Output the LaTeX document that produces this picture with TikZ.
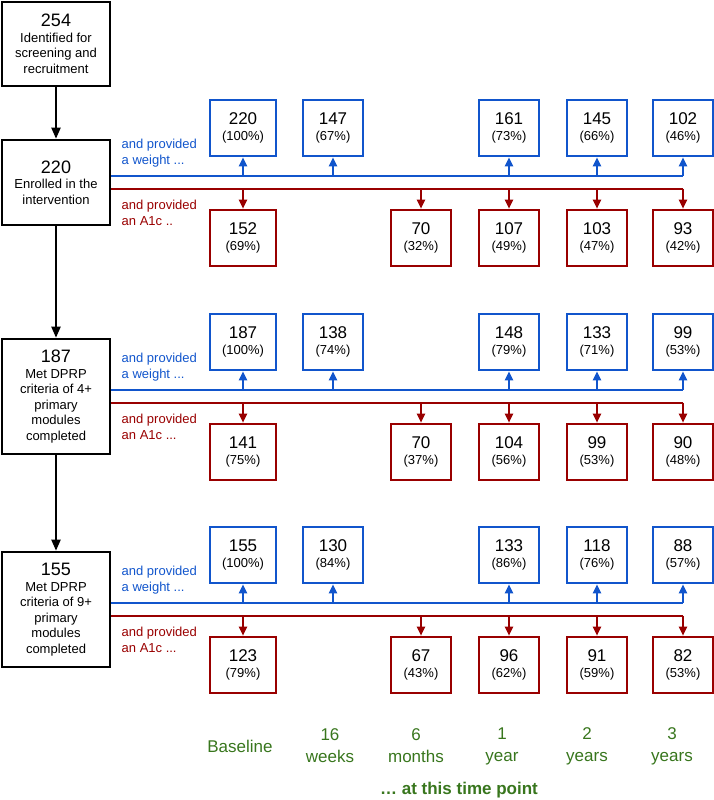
\documentclass[tikz,border=0pt]{standalone}
\usepackage{fontspec}
\setmainfont{Liberation Sans}
\usetikzlibrary{arrows.meta,positioning}
\definecolor{wtblue}{HTML}{1155CC}
\definecolor{aored}{HTML}{990000}
\definecolor{tpgreen}{HTML}{38761D}
\newcommand{\bignum}[1]{{\fontsize{9}{9}\selectfont #1}}
\newcommand{\boxnum}[1]{{\fontsize{8.5}{8}\selectfont #1}}

\begin{document}
\begin{tikzpicture}[x=0.5pt,y=-0.5pt,>={Triangle[length=4.5pt,width=4pt]},
    stage/.style={draw,line width=1.3pt,align=center,minimum width=54pt,inner sep=1pt,
      font=\fontsize{6.5}{7.75}\selectfont},
    wtbox/.style={draw=wtblue,line width=1pt,align=center,minimum width=30pt,minimum height=28pt,
      inner sep=1pt,font=\fontsize{6.5}{8}\selectfont},
    aobox/.style={wtbox,draw=aored},
    wtline/.style={draw=wtblue,line width=1pt},
    aoline/.style={draw=aored,line width=1pt},
    wtlabel/.style={text=wtblue,align=left,inner sep=0pt,anchor=west,font=\fontsize{6.5}{8}\selectfont},
    aolabel/.style={wtlabel,text=aored},
    timept/.style={text=tpgreen,align=center,font=\fontsize{8.5}{11}\selectfont}]
  \useasboundingbox (0,0) rectangle (714,800);

  % the four stages
  \node[stage,minimum height=42pt] (s0) at (56,44) {\bignum{254}\\Identified for\\screening and\\recruitment};
  \node[stage,minimum height=42.5pt] (s1) at (56,182.5) {\bignum{220}\\Enrolled in the\\intervention};
  \node[stage,minimum height=57.5pt] (s2) at (56,396.5) {\bignum{187}\\Met DPRP\\criteria of 4+\\primary\\modules\\completed};
  \node[stage,minimum height=57.5pt] (s3) at (56,609.5) {\bignum{155}\\Met DPRP\\criteria of 9+\\primary\\modules\\completed};

  \draw[->,line width=1pt,>={Triangle[length=5.5pt,width=4.5pt]}] (s0) -- (s1);
  \draw[->,line width=1pt,>={Triangle[length=5.5pt,width=4.5pt]}] (s1) -- (s2);
  \draw[->,line width=1pt,>={Triangle[length=5.5pt,width=4.5pt]}] (s2) -- (s3);

  % time point columns
  \foreach \c/\x in {1/243,2/333,3/421,4/509,5/597,6/683}
    \coordinate (c\c) at (\x,0);

  % weight and A1c lines
  \foreach \g in {1,2,3} {
    \coordinate[yshift=3.1pt] (w\g) at (s\g.east);
    \coordinate[yshift=-3.1pt] (a\g) at (s\g.east);
    \foreach \c in {1,...,6} {
      \coordinate (w\g-\c) at (w\g -| c\c);
      \coordinate (a\g-\c) at (a\g -| c\c);
    }
    \draw[wtline] (w\g) -- (w\g-6);
    \draw[aoline] (a\g) -- (a\g-6);
  }

  \node[wtlabel,xshift=5pt,yshift=11.5pt] (wl1) at (w1) {and provided\\a weight ...};
  \node[aolabel,xshift=5pt,yshift=-12pt] (al1) at (a1) {and provided\\an A1c ..};
  \node[wtlabel,xshift=5pt,yshift=11.5pt] (wl2) at (w2) {and provided\\a weight ...};
  \node[aolabel,xshift=5pt,yshift=-12pt] (al2) at (a2) {and provided\\an A1c ...};
  \node[wtlabel,xshift=5pt,yshift=11.5pt] (wl3) at (w3) {and provided\\a weight ...};
  \node[aolabel,xshift=5pt,yshift=-12pt] (al3) at (a3) {and provided\\an A1c ...};

  % enrolled
  \foreach \c/\v/\p in {1/220/100,2/147/67,4/161/73,5/145/66,6/102/46} {
    \node[wtbox,minimum width={\c==1?33:30},above=9.5pt of w1-\c] (wb1-\c) {\boxnum{\v}\\(\p\%)};
    \draw[wtline,->] (w1-\c) -- (wb1-\c);
  }
  \foreach \c/\v/\p in {1/152/69,3/70/32,4/107/49,5/103/47,6/93/42} {
    \node[aobox,minimum width={\c==1?33:30},below=10pt of a1-\c] (ab1-\c) {\boxnum{\v}\\(\p\%)};
    \draw[aoline,->] (a1-\c) -- (ab1-\c);
  }

  % 4+ modules
  \foreach \c/\v/\p in {1/187/100,2/138/74,4/148/79,5/133/71,6/99/53} {
    \node[wtbox,minimum width={\c==1?33:30},above=9.5pt of w2-\c] (wb2-\c) {\boxnum{\v}\\(\p\%)};
    \draw[wtline,->] (w2-\c) -- (wb2-\c);
  }
  \foreach \c/\v/\p in {1/141/75,3/70/37,4/104/56,5/99/53,6/90/48} {
    \node[aobox,minimum width={\c==1?33:30},below=10pt of a2-\c] (ab2-\c) {\boxnum{\v}\\(\p\%)};
    \draw[aoline,->] (a2-\c) -- (ab2-\c);
  }

  % 9+ modules
  \foreach \c/\v/\p in {1/155/100,2/130/84,4/133/86,5/118/76,6/88/57} {
    \node[wtbox,minimum width={\c==1?33:30},above=9.5pt of w3-\c] (wb3-\c) {\boxnum{\v}\\(\p\%)};
    \draw[wtline,->] (w3-\c) -- (wb3-\c);
  }
  \foreach \c/\v/\p in {1/123/79,3/67/43,4/96/62,5/91/59,6/82/53} {
    \node[aobox,minimum width={\c==1?33:30},below=10pt of a3-\c] (ab3-\c) {\boxnum{\v}\\(\p\%)};
    \draw[aoline,->] (a3-\c) -- (ab3-\c);
  }

  % time points
  \foreach \n/\x/\t in {1/240/Baseline,2/330/16\\weeks,3/416/6\\months,4/502/1\\year,5/587/2\\years,6/672/3\\years}
    \node[timept] (tp\n) at (\x,746) {\t};
  \node[timept,font=\bfseries\fontsize{8.5}{10}\selectfont] (tpall) at (459,790) {… at this time point};
\end{tikzpicture}
\end{document}
